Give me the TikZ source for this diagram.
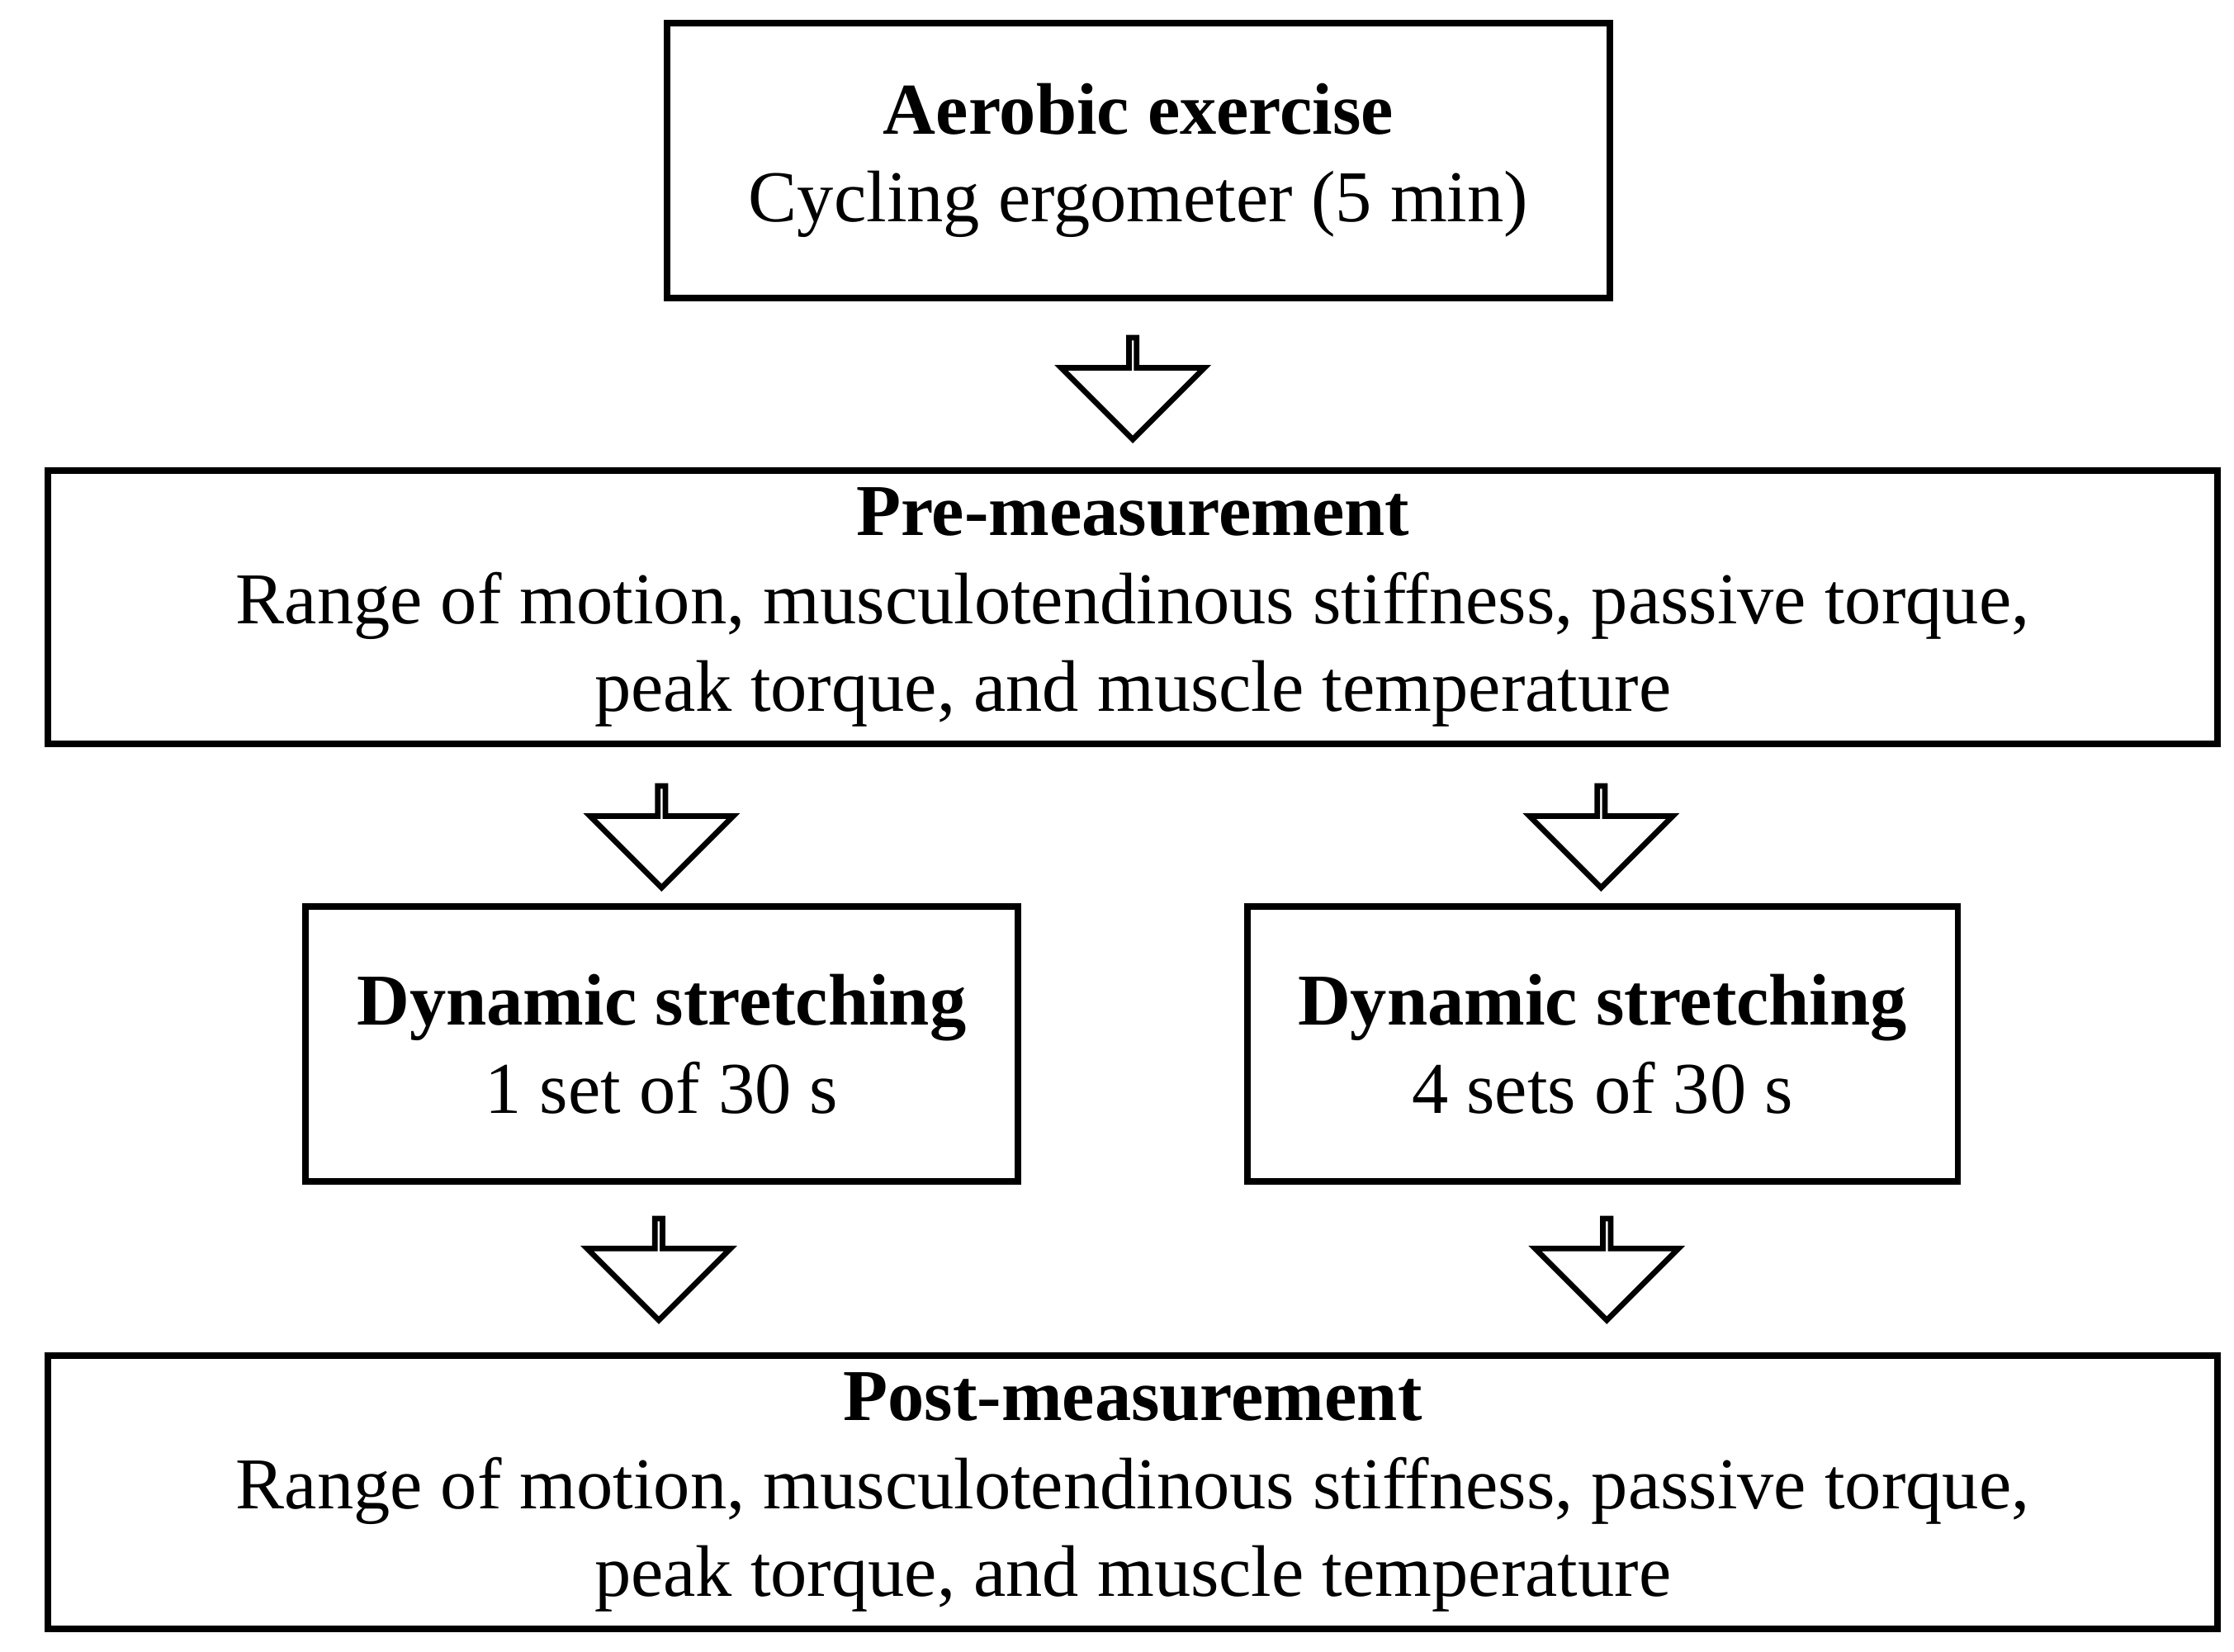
\documentclass[tikz,border=0pt]{standalone}
\usepackage{fontspec}
\setmainfont{Liberation Serif}
\usetikzlibrary{shapes.arrows}
\begin{document}
\begin{tikzpicture}[x=0.01cm,y=-0.01cm,
  box/.style={draw, line width=1.3pt, inner sep=0pt, align=center,
    font=\fontsize{14.5}{17.5}\selectfont},
  downarrow/.style={draw, line width=1.1pt, single arrow, shape border rotate=270,
    minimum height=0.71cm, minimum width=1cm, single arrow head extend=0.34cm,
    single arrow tip angle=90, inner sep=0pt}]
  \useasboundingbox (0,0) rectangle (1560,1153);
  % boxes
  \node (aer) [box, minimum width=6.58cm, minimum height=1.92cm] at (795,112)
    {\textbf{Aerobic exercise}\\Cycling ergometer (5 min)};
  \node (pre) [box, minimum width=15.14cm, minimum height=1.91cm] at (791,424)
    {\textbf{Pre-measurement}\\Range of motion, musculotendinous stiffness, passive torque,\\peak torque, and muscle temperature};
  \node (ds1) [box, minimum width=4.97cm, minimum height=1.92cm] at (462,729)
    {\textbf{Dynamic stretching}\\1 set of 30 s};
  \node (ds4) [box, minimum width=4.96cm, minimum height=1.92cm] at (1119,729)
    {\textbf{Dynamic stretching}\\4 sets of 30 s};
  \node (post) [box, minimum width=15.14cm, minimum height=1.91cm] at (791,1042)
    {\textbf{Post-measurement}\\Range of motion, musculotendinous stiffness, passive torque,\\peak torque, and muscle temperature};
  % block arrows
  \node (a1) [downarrow] at (791,270) {};
  \node (a2) [downarrow] at (462,583) {};
  \node (a3) [downarrow] at (1118,583) {};
  \node (a4) [downarrow] at (460,885) {};
  \node (a5) [downarrow] at (1122,885) {};
\end{tikzpicture}
\end{document}
